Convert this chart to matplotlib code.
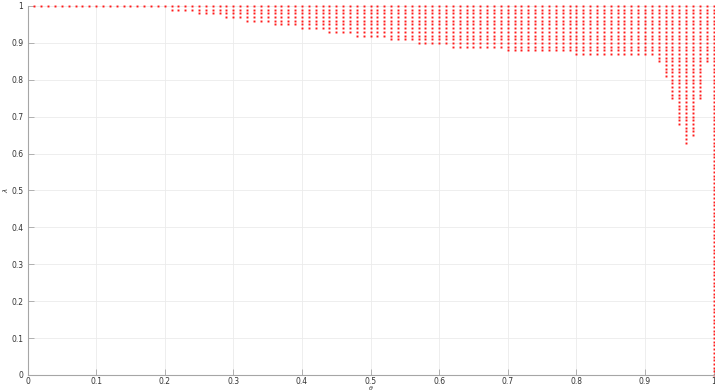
import numpy as np
import matplotlib
matplotlib.use("Agg")
import matplotlib.pyplot as plt

# theta columns 0.01 .. 1.00, lowest lambda reached in each column
theta = [round(0.01 * i, 2) for i in range(1, 101)]
lam_min = ([1.00] * 20 +            # 0.01-0.20
           [0.99] * 4 +             # 0.21-0.24
           [0.98] * 4 +             # 0.25-0.28
           [0.97] * 3 +             # 0.29-0.31
           [0.96] * 4 +             # 0.32-0.35
           [0.95] * 4 +             # 0.36-0.39
           [0.94] * 4 +             # 0.40-0.43
           [0.93] * 4 +             # 0.44-0.47
           [0.92] * 5 +             # 0.48-0.52
           [0.91] * 4 +             # 0.53-0.56
           [0.90] * 5 +             # 0.57-0.61
           [0.89] * 8 +             # 0.62-0.69
           [0.88] * 10 +            # 0.70-0.79
           [0.87] * 12 +            # 0.80-0.91
           [0.85, 0.81, 0.75, 0.68, 0.63, 0.65, 0.75, 0.85, 0.00])  # 0.92-1.00
lam_step = 0.01

xs, ys = [], []
for t, lo in zip(theta, lam_min):
    n = int(round((1.0 - lo) / lam_step)) + 1
    for k in range(n):
        xs.append(t)
        ys.append(1.0 - k * lam_step)

fig = plt.figure(figsize=(7.15, 3.92), dpi=100)
ax = fig.add_axes([0.0385, 0.0434, 0.9595, 0.9413])

ax.plot(xs, ys, linestyle='none', marker='s', ms=1.4, mew=0,
        color='#ff1a1a', clip_on=False)

ax.set_xlim(0, 1)
ax.set_ylim(0, 1)
ax.set_xticks(np.arange(0, 1.01, 0.1))
ax.set_yticks(np.arange(0, 1.01, 0.1))
ax.set_xticklabels(['0', '0.1', '0.2', '0.3', '0.4', '0.5', '0.6', '0.7', '0.8', '0.9', '1'])
ax.set_yticklabels(['0', '0.1', '0.2', '0.3', '0.4', '0.5', '0.6', '0.7', '0.8', '0.9', '1'])
ax.grid(True, color='#ebebeb', lw=0.6)
ax.set_axisbelow(True)

for s in ['top', 'right']:
    ax.spines[s].set_visible(False)
for s in ['left', 'bottom']:
    ax.spines[s].set_color('#a6a6a6')
    ax.spines[s].set_linewidth(0.8)
ax.tick_params(direction='in', length=4.5, width=0.6, color='#a6a6a6',
               labelsize=5.5, labelcolor='#333333')
ax.tick_params(axis='x', pad=1.2)
ax.tick_params(axis='y', pad=3)

ax.set_xlabel('θ', fontsize=4.5, color='#333333', va='center', style='italic')
ax.xaxis.set_label_coords(0.5, -0.037)
ax.set_ylabel('λ', fontsize=5, color='#333333', va='center', rotation=90, style='italic')
ax.yaxis.set_label_coords(-0.031, 0.5)

fig.savefig('out.png', dpi=100)
